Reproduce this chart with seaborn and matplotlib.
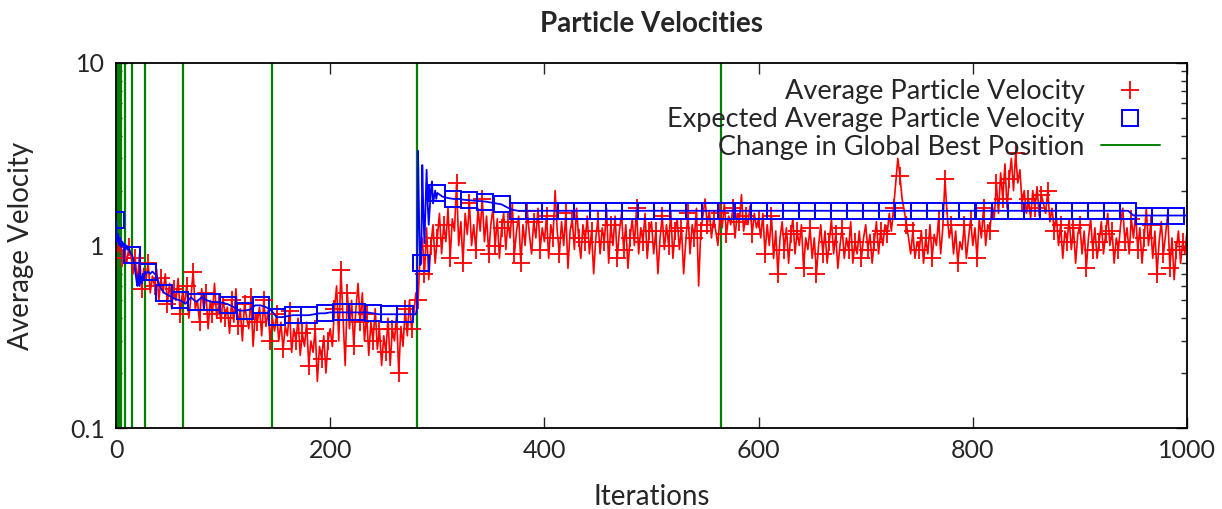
import numpy as np
import matplotlib
matplotlib.use("Agg")
import matplotlib.pyplot as plt
from matplotlib.lines import Line2D
import seaborn as sns

# ---------------- data ----------------
# Average particle velocity (sampled every 2 iterations)
red_x = list(range(0, 1001, 2))
red_y = [
    # 0-48
    1.0, 0.92, 1.02, 0.85, 0.95, 0.8, 0.98, 0.88, 0.7, 0.85, 0.62, 0.9, 0.58, 0.75, 0.65, 0.8, 0.55, 0.68, 0.6, 0.74, 0.5, 0.66, 0.55, 0.7, 0.48,
    # 50-98
    0.62, 0.45, 0.58, 0.5, 0.66, 0.42, 0.55, 0.48, 0.6, 0.4, 0.52, 0.72, 0.45, 0.5, 0.38, 0.58, 0.44, 0.55, 0.35, 0.5, 0.42, 0.62, 0.4, 0.48, 0.38,
    # 100-148
    0.52, 0.4, 0.46, 0.33, 0.5, 0.38, 0.58, 0.36, 0.45, 0.3, 0.48, 0.4, 0.35, 0.52, 0.28, 0.42, 0.38, 0.46, 0.32, 0.5, 0.36, 0.44, 0.3, 0.4, 0.34,
    # 150-198
    0.42, 0.3, 0.38, 0.27, 0.36, 0.32, 0.44, 0.26, 0.35, 0.3, 0.4, 0.25, 0.33, 0.28, 0.38, 0.22, 0.3, 0.26, 0.35, 0.18, 0.28, 0.24, 0.32, 0.2, 0.3,
    # 200-248
    0.35, 0.28, 0.45, 0.6, 0.3, 0.73, 0.4, 0.22, 0.55, 0.35, 0.5, 0.28, 0.45, 0.62, 0.38, 0.55, 0.3, 0.42, 0.25, 0.38, 0.3, 0.45, 0.27, 0.35, 0.22,
    # 250-298
    0.32, 0.26, 0.4, 0.22, 0.35, 0.3, 0.42, 0.2, 0.36, 0.28, 0.45, 0.32, 0.5, 0.35, 0.42, 0.55, 0.5, 0.9, 1.1, 0.7, 1.25, 0.65, 1.0, 1.3, 0.8,
    # 300-348
    1.1, 1.5, 0.9, 1.3, 1.05, 1.6, 0.85, 1.4, 1.2, 2.2, 1.0, 1.35, 0.8, 1.5, 1.15, 1.7, 1.0, 1.3, 0.95, 1.6, 1.2, 1.8, 1.05, 1.45, 0.9,
    # 350-398
    1.3, 1.6, 1.0, 1.4, 0.85, 1.25, 1.5, 0.95, 1.35, 1.1, 1.7, 0.9, 1.2, 1.45, 0.8, 1.3, 1.0, 1.55, 1.15, 0.9, 1.35, 1.1, 1.6, 0.95, 1.25,
    # 400-448
    1.05, 1.45, 0.85, 1.3, 1.1, 2.0, 1.2, 0.9, 1.35, 1.0, 1.5, 0.75, 1.2, 1.4, 0.95, 1.6, 1.1, 0.85, 1.3, 1.05, 1.45, 0.9, 1.2, 0.7, 1.1,
    # 450-498
    1.4, 0.9, 1.25, 1.05, 1.6, 0.8, 1.3, 1.0, 1.45, 0.85, 1.2, 1.5, 0.95, 1.3, 0.75, 1.1, 1.4, 1.0, 1.6, 0.9, 1.25, 1.05, 1.5, 0.85, 1.2,
    # 500-548
    1.35, 0.9, 1.2, 0.7, 1.1, 1.45, 0.95, 1.3, 1.0, 1.55, 0.85, 1.2, 1.4, 0.95, 1.25, 0.7, 1.05, 1.5, 0.9, 1.3, 1.1, 1.6, 0.6, 1.2, 1.45,
    # 550-598
    1.8, 1.3, 1.55, 1.1, 1.4, 1.2, 1.0, 1.5, 1.25, 1.7, 1.15, 1.45, 1.3, 1.6, 1.1, 1.5, 1.35, 1.9, 1.2, 1.45, 1.3, 1.65, 1.15, 1.5, 1.25,
    # 600-648
    1.4, 1.1, 1.5, 0.9, 1.3, 1.0, 1.45, 0.85, 1.2, 0.7, 1.1, 1.35, 0.95, 1.25, 0.8, 1.15, 1.4, 0.9, 1.2, 1.0, 1.3, 0.75, 1.1, 0.95, 1.25,
    # 650-698
    0.85, 1.1, 0.7, 1.0, 1.3, 0.9, 1.2, 0.8, 1.05, 1.4, 0.9, 1.15, 0.75, 1.0, 1.25, 0.85, 1.1, 0.95, 1.35, 0.8, 1.05, 0.9, 1.2, 0.85, 1.1,
    # 700-748
    1.3, 0.95, 1.15, 0.8, 1.05, 1.35, 0.9, 1.2, 1.0, 1.3, 1.15, 1.5, 1.2, 1.6, 2.2, 3.0, 2.4, 1.8, 1.55, 1.3, 1.1, 0.9, 1.2, 0.85, 1.05,
    # 750-798
    0.95, 1.2, 0.8, 1.1, 0.9, 1.3, 0.85, 1.15, 1.0, 1.4, 0.9, 1.25, 2.3, 1.5, 1.1, 1.3, 0.9, 1.2, 0.8, 1.05, 0.95, 1.3, 0.85, 1.1, 1.4,
    # 800-848
    1.0, 1.25, 0.85, 1.4, 1.1, 1.6, 1.0, 1.3, 1.2, 1.7, 1.4, 2.2, 1.5, 2.5, 1.8, 2.8, 1.6, 2.3, 3.0, 2.0, 3.2, 2.2, 2.6, 1.7, 2.0,
    # 850-898
    1.5, 1.8, 1.4, 2.0, 1.6, 2.1, 1.45, 1.9, 1.7, 1.5, 2.0, 1.35, 1.6, 1.2, 1.45, 1.0, 1.3, 0.85, 1.2, 1.05, 1.4, 0.95, 1.25, 0.8, 1.15,
    # 900-948
    1.3, 0.9, 1.2, 0.75, 1.1, 1.4, 0.95, 1.25, 0.85, 1.05, 1.35, 0.9, 1.15, 1.5, 1.0, 1.2, 0.8, 1.1, 0.95, 1.3, 1.6, 1.05, 1.25, 0.9, 1.4,
    # 950-998
    1.1, 1.5, 0.95, 1.25, 0.8, 1.1, 1.6, 1.0, 1.3, 0.85, 1.2, 0.7, 1.05, 1.35, 0.9, 1.15, 1.5, 0.75, 1.1, 0.65, 0.95, 1.2, 0.8, 1.05, 0.9,
    # 1000
    1.2,
]

# Expected average particle velocity
blue_x = ([0, 1, 2, 3, 4, 5, 6, 7, 8, 9, 10, 11, 12, 13, 14, 15,
           17, 19, 20, 21, 22, 23, 24, 25, 26, 27, 28, 30, 32, 34, 36, 38, 40, 42, 45]
          + list(range(50, 281, 5))
          + list(range(281, 301))
          + list(range(305, 376, 5))
          + list(range(390, 946, 15))
          + [950, 960, 975, 990, 1000])
blue_y = ([1.38, 1.05, 1.15, 1.0, 1.1, 0.98, 1.05, 1.0, 1.02, 0.95, 1.0, 0.95, 0.97, 0.92, 0.9, 0.89,
           0.8, 0.65, 0.6, 0.7, 0.6, 0.68, 0.62, 0.7, 0.65, 0.72, 0.7, 0.72, 0.7, 0.72, 0.7, 0.68, 0.62, 0.58, 0.55]
          + [0.53, 0.51, 0.5, 0.48, 0.52, 0.49, 0.52, 0.5, 0.49, 0.49,
             0.485, 0.475, 0.46, 0.44, 0.44, 0.445, 0.47, 0.47, 0.46, 0.44,
             0.405, 0.405, 0.41, 0.415, 0.415, 0.415, 0.415, 0.42, 0.425, 0.425,
             0.43, 0.43, 0.43, 0.43, 0.43, 0.43, 0.43, 0.43, 0.425, 0.42,
             0.42, 0.42, 0.42, 0.42, 0.42, 0.42, 0.42]
          + [0.45, 3.3, 1.4, 0.78, 0.8, 2.76, 1.5, 1.03, 1.6, 2.6,
             1.7, 1.3, 1.6, 2.0, 2.24, 1.7, 1.85, 2.0, 1.8, 1.94]
          + [1.85, 1.82, 1.8, 1.8, 1.78, 1.77, 1.76, 1.75, 1.74, 1.72, 1.7, 1.68, 1.62, 1.57, 1.55]
          + [1.55] * len(range(390, 946, 15))
          + [1.46, 1.46, 1.46, 1.46, 1.46])

# Iterations at which the global best position changed
gbest_changes = [1, 3, 5, 8, 15, 27, 63, 146, 281, 565]

x_ticks = [0, 200, 400, 600, 800, 1000]
y_ticks = [0.1, 1, 10]
y_tick_labels = ["0.1", "1", "10"]

# ---------------- plot ----------------
sns.set_theme(style="ticks")
plt.rcParams["font.family"] = ["Lato", "DejaVu Sans"]
plt.rcParams["xtick.direction"] = "in"
plt.rcParams["ytick.direction"] = "in"

fig = plt.figure(figsize=(12.22, 5.09), dpi=100)
ax = fig.add_axes([116 / 1222, 1 - 428 / 509, (1187 - 116) / 1222, (428 - 63) / 509])

for gx in gbest_changes:
    ax.axvline(gx, color="#008000", lw=1.6, zorder=1)

blue_marks = [i for i, v in enumerate(blue_x) if v % 15 == 0]
sns.lineplot(x=red_x, y=red_y, ax=ax, color="#ff0000", lw=1.2, marker="+",
             markersize=13, markeredgewidth=1.3, markeredgecolor="#ff0000",
             markevery=3, zorder=2, estimator=None, sort=False)
sns.lineplot(x=blue_x, y=blue_y, ax=ax, color="#0000ff", lw=1.3, marker="s",
             markersize=11, markerfacecolor="none", markeredgecolor="#0000ff",
             markeredgewidth=1.4, markevery=blue_marks, zorder=3, estimator=None, sort=False)

ax.set_yscale("log")
ax.set_xlim(0, 1000)
ax.set_ylim(0.1, 10)
ax.set_xticks(x_ticks)
ax.set_xticklabels([str(t) for t in x_ticks])
ax.set_yticks(y_ticks)
ax.set_yticklabels(y_tick_labels)
ax.tick_params(axis="both", which="both", top=True, right=True, labelsize=18, pad=8)
ax.tick_params(axis="both", which="major", length=8, width=1)
ax.tick_params(axis="y", which="minor", length=4, width=1)
for s in ax.spines.values():
    s.set_linewidth(1.3)
    s.set_color("black")
ax.grid(False)

ax.set_title("Particle Velocities", fontsize=20, fontweight="bold", pad=22)
ax.set_xlabel("Iterations", fontsize=20, labelpad=16)
ax.set_ylabel("Average Velocity", fontsize=20)
ax.yaxis.set_label_coords(-(116 - 34) / 1071, 0.5)

handles = [
    Line2D([], [], ls="none", marker="+", color="#ff0000", markersize=13, markeredgewidth=1.3),
    Line2D([], [], ls="none", marker="s", markerfacecolor="none", markeredgecolor="#0000ff",
           markersize=11, markeredgewidth=1.4),
    Line2D([], [], color="#008000", lw=1.4),
]
labels = ["Average Particle Velocity", "Expected Average Particle Velocity",
          "Change in Global Best Position"]
leg = ax.legend(handles, labels, loc="upper right", bbox_to_anchor=(0.975, 0.955),
                frameon=False, markerfirst=False, fontsize=19.5, handlelength=2.2,
                handletextpad=0.6, labelspacing=0.1, borderpad=0, borderaxespad=0,
                alignment="right")
for t in leg.get_texts():
    t.set_ha("right")

fig.savefig("out.png", dpi=100)
